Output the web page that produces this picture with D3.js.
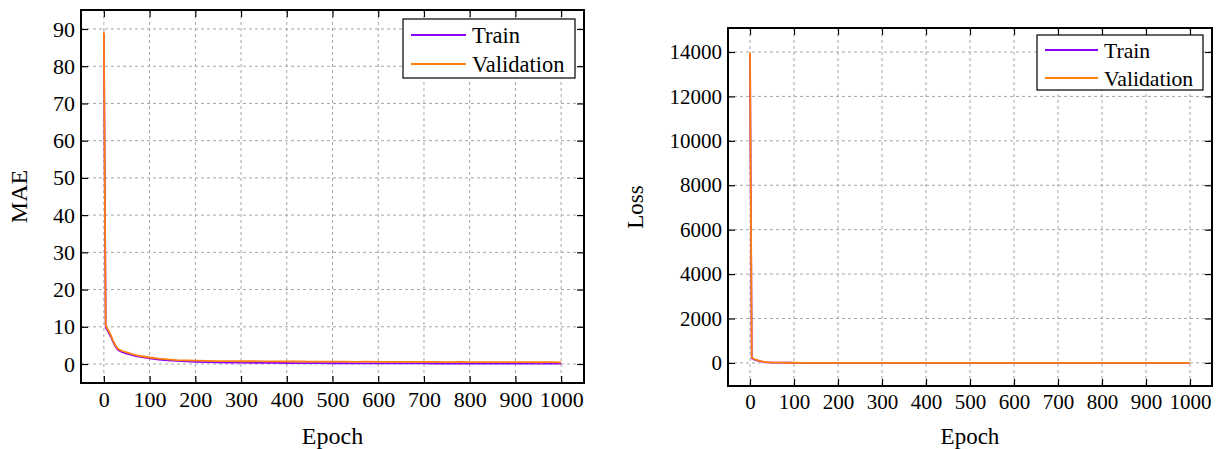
<!DOCTYPE html>
<html>
<head>
<meta charset="utf-8">
<script src="https://cdn.jsdelivr.net/npm/d3@7"></script>
<style>
  html, body { margin: 0; padding: 0; background: #fff; }
  svg { display: block; }
  text { font-family: "Liberation Serif", "Times New Roman", serif; fill: #000; }
</style>
</head>
<body>
<svg id="fig" width="1220" height="449"></svg>
<script>
// Training history (sampled epochs)
const epochs = [0, 4, 8, 10, 15, 20, 25, 30, 35, 40, 50, 60, 70, 80, 90, 100, 120, 140, 160, 180, 200,
  225, 250, 275, 300, 325, 350, 375, 400, 425, 450, 475, 500, 525, 550, 575, 600, 625, 650, 675, 700,
  725, 750, 775, 800, 825, 850, 875, 900, 925, 950, 975, 1000];

const maeTrain = [88.6, 9.8, 9.0, 8.6, 7.4, 6.0, 4.8, 3.9, 3.5, 3.2, 2.8, 2.45, 2.15, 1.9, 1.7, 1.5, 1.2, 0.98, 0.82, 0.7, 0.6,
  0.52, 0.46, 0.41, 0.37, 0.34, 0.31, 0.29, 0.27, 0.25, 0.24, 0.22, 0.21, 0.2, 0.19, 0.18, 0.17, 0.17, 0.16, 0.15, 0.15,
  0.14, 0.14, 0.13, 0.13, 0.13, 0.12, 0.12, 0.12, 0.11, 0.11, 0.11, 0.1];

const maeVal = [89.3, 10.3, 9.4, 9.0, 7.8, 6.3, 5.1, 4.2, 3.8, 3.5, 3.1, 2.7, 2.4, 2.15, 1.95, 1.75, 1.45, 1.22, 1.06, 0.97, 0.9,
  0.86, 0.8, 0.78, 0.74, 0.76, 0.7, 0.71, 0.67, 0.68, 0.64, 0.66, 0.62, 0.63, 0.6, 0.62, 0.58, 0.59, 0.56, 0.58, 0.55,
  0.56, 0.53, 0.55, 0.52, 0.53, 0.5, 0.52, 0.49, 0.5, 0.47, 0.49, 0.46];

const lossTrain = [13900, 210, 165, 150, 118, 92, 68, 48, 34, 25, 16, 11, 8.5, 7, 6, 5, 4, 3.4, 3, 2.6, 2.3,
  2.0, 1.8, 1.6, 1.4, 1.3, 1.2, 1.1, 1.0, 0.95, 0.9, 0.85, 0.8, 0.75, 0.7, 0.68, 0.65, 0.62, 0.6, 0.58, 0.56,
  0.54, 0.52, 0.5, 0.48, 0.47, 0.46, 0.45, 0.44, 0.43, 0.42, 0.41, 0.4];

const lossVal = [13980, 240, 185, 168, 132, 104, 78, 56, 40, 30, 19, 13, 10, 8, 7, 6, 5, 4.2, 3.7, 3.3, 3.0,
  2.7, 2.5, 2.3, 2.1, 2.0, 1.9, 1.9, 1.8, 1.8, 1.7, 1.7, 1.6, 1.6, 1.5, 1.6, 1.5, 1.5, 1.4, 1.5, 1.4,
  1.4, 1.4, 1.3, 1.4, 1.3, 1.3, 1.3, 1.2, 1.3, 1.2, 1.2, 1.2];

const xTicks = [0, 100, 200, 300, 400, 500, 600, 700, 800, 900, 1000];
const maeTicks = [0, 10, 20, 30, 40, 50, 60, 70, 80, 90];
const lossTicks = [0, 2000, 4000, 6000, 8000, 10000, 12000, 14000];
const seriesNames = ["Train", "Validation"];
const seriesColors = ["#8a00ff", "#ff7f0e"];

const SERIF = '"Liberation Serif", "Times New Roman", serif';
const svg = d3.select("#fig");

function drawPanel(p) {
  const x = d3.scaleLinear().domain(p.xDomain).range([p.left, p.right]);
  const y = d3.scaleLinear().domain(p.yDomain).range([p.bottom, p.top]);
  const g = svg.append("g");
  const w = p.right - p.left, h = p.bottom - p.top;

  // dashed grid
  const grid = g.append("g").attr("stroke", "#a6a6a6").attr("stroke-width", 1)
    .attr("stroke-dasharray", "3,3");
  p.xTicks.forEach(t => grid.append("line")
    .attr("x1", x(t)).attr("x2", x(t)).attr("y1", p.top).attr("y2", p.bottom));
  p.yTicks.forEach(t => grid.append("line")
    .attr("x1", p.left).attr("x2", p.right).attr("y1", y(t)).attr("y2", y(t)));

  // series
  const line = d3.line().x((d, i) => x(epochs[i])).y(d => y(d));
  p.series.forEach((s, k) => {
    g.append("path").datum(s)
      .attr("fill", "none")
      .attr("stroke", seriesColors[k])
      .attr("stroke-width", 1.8)
      .attr("stroke-linejoin", "round")
      .attr("d", line);
  });

  // axes with inward ticks on all four sides
  const tl = 7;
  const fs = p.tickFont;
  const fmt = d3.format("d");
  const axB = g.append("g").attr("transform", `translate(0,${p.bottom})`)
    .call(d3.axisBottom(x).tickValues(p.xTicks).tickSizeInner(-tl).tickSizeOuter(0).tickPadding(8).tickFormat(fmt));
  const axT = g.append("g").attr("transform", `translate(0,${p.top})`)
    .call(d3.axisTop(x).tickValues(p.xTicks).tickSizeInner(-tl).tickSizeOuter(0).tickFormat(""));
  const axL = g.append("g").attr("transform", `translate(${p.left},0)`)
    .call(d3.axisLeft(y).tickValues(p.yTicks).tickSizeInner(-tl).tickSizeOuter(0).tickPadding(6).tickFormat(fmt));
  const axR = g.append("g").attr("transform", `translate(${p.right},0)`)
    .call(d3.axisRight(y).tickValues(p.yTicks).tickSizeInner(-tl).tickSizeOuter(0).tickFormat(""));
  [axB, axT, axL, axR].forEach(a => {
    a.attr("font-family", SERIF).attr("font-size", fs);
    a.select(".domain").remove();
    a.selectAll(".tick line").attr("stroke", "#000").attr("stroke-width", 1.2);
    a.selectAll(".tick text").attr("font-family", SERIF).attr("font-size", fs).attr("fill", "#000");
  });

  // frame
  g.append("rect").attr("x", p.left).attr("y", p.top).attr("width", w).attr("height", h)
    .attr("fill", "none").attr("stroke", "#000").attr("stroke-width", 2);

  // axis titles
  g.append("text").attr("x", (p.left + p.right) / 2).attr("y", p.xLabelY)
    .attr("text-anchor", "middle").attr("font-size", p.labelFont).text("Epoch");
  g.append("text")
    .attr("transform", `translate(${p.yLabelX},${(p.top + p.bottom) / 2}) rotate(-90)`)
    .attr("text-anchor", "middle").attr("font-size", p.labelFont).text(p.yLabel);

  // legend
  const L = p.legend;
  const lg = g.append("g");
  lg.append("rect").attr("x", L.x).attr("y", L.y).attr("width", L.w).attr("height", L.h)
    .attr("fill", "#fff").attr("stroke", "#000").attr("stroke-width", 1.2);
  seriesNames.forEach((name, k) => {
    const yy = L.y + L.row0 + k * L.dy;
    lg.append("line").attr("x1", L.x + L.pad).attr("x2", L.x + L.pad + L.len)
      .attr("y1", yy).attr("y2", yy).attr("stroke", seriesColors[k]).attr("stroke-width", 1.8);
    lg.append("text").attr("x", L.x + L.pad + L.len + 6).attr("y", yy)
      .attr("dy", "0.35em").attr("font-size", L.font).text(name);
  });
}

drawPanel({
  left: 81, right: 584, top: 10, bottom: 383,
  xDomain: [-50, 1050], yDomain: [-5.1, 95.1],
  xTicks: xTicks, yTicks: maeTicks,
  series: [maeTrain, maeVal],
  yLabel: "MAE", yLabelX: 27, xLabelY: 444,
  tickFont: 22, labelFont: 24,
  legend: { x: 403, y: 19, w: 172, h: 59, pad: 8, len: 55, row0: 16, dy: 29, font: 22.5 }
});

drawPanel({
  left: 728, right: 1212, top: 28, bottom: 386,
  xDomain: [-50, 1050], yDomain: [-1040, 15080],
  xTicks: xTicks, yTicks: lossTicks,
  series: [lossTrain, lossVal],
  yLabel: "Loss", yLabelX: 643, xLabelY: 444,
  tickFont: 21, labelFont: 23,
  legend: { x: 1037, y: 35, w: 166, h: 55, pad: 8, len: 53, row0: 15, dy: 28, font: 21.7 }
});
</script>
</body>
</html>
